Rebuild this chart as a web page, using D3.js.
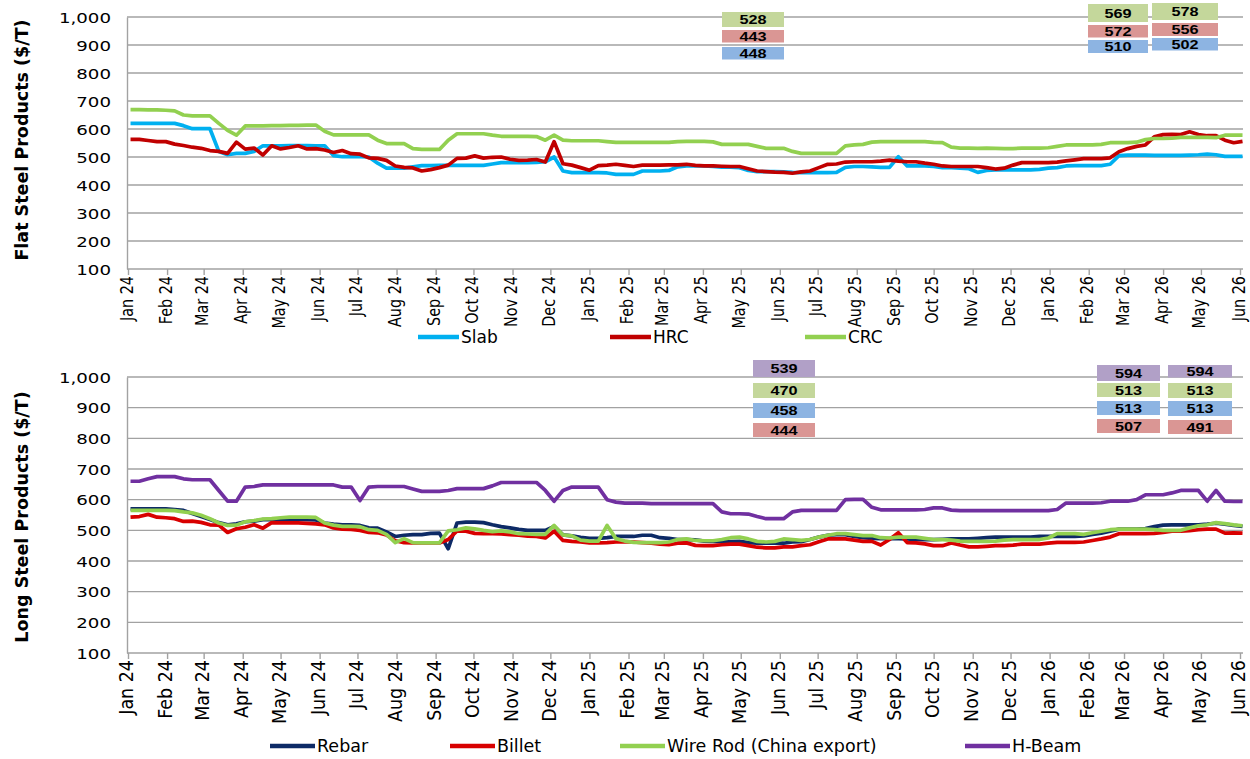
<!DOCTYPE html>
<html><head><meta charset="utf-8">
<script src="https://cdn.jsdelivr.net/npm/d3@7"></script>
<style>body{margin:0;background:#fff;} svg{display:block;}</style>
</head><body>
<svg id="chart" width="1250" height="759"></svg>
<script>
// ---------------- DATA ----------------
const monthLabels = ["Jan 24","Feb 24","Mar 24","Apr 24","May 24","Jun 24","Jul 24","Aug 24","Sep 24","Oct 24","Nov 24","Dec 24",
  "Jan 25","Feb 25","Mar 25","Apr 25","May 25","Jun 25","Jul 25","Aug 25","Sep 25","Oct 25","Nov 25","Dec 25",
  "Jan 26","Feb 26","Mar 26","Apr 26","May 26","Jun 26"];
const yTicks = [100,200,300,400,500,600,700,800,900,1000];
const firstWeek = "2024-01-03"; // weekly observations

const slab = [620,620,620,620,620,620,612,601,601,601,
  520,508,513,513,520,540,540,540,541,541,
  541,540,540,505,501,501,501,500,478,460,
  460,460,465,469,469,470,470,470,470,470,
  470,475,480,480,480,480,481,483,500,450,
  444,444,444,444,443,438,438,438,450,450,
  450,452,465,468,468,468,466,464,464,462,
  452,448,448,448,447,445,444,444,444,444,
  445,463,466,466,465,463,463,501,468,468,
  468,466,462,462,460,458,445,452,454,454,
  454,454,454,456,460,462,468,469,469,469,
  469,474,505,507,507,507,506,506,506,506,
  507,508,510,508,502,502,502];
const hrc = [563,563,559,555,555,546,541,535,531,523,
  520,513,553,528,532,507,540,529,534,540,
  529,530,525,516,523,512,510,497,495,488,
  468,463,461,450,455,462,471,495,496,504,
  496,499,500,492,488,489,491,482,555,476,
  471,462,453,469,471,474,470,466,471,471,
  471,472,472,474,470,468,468,467,466,466,
  458,450,448,446,445,442,447,450,462,474,
  475,482,483,483,483,485,489,485,483,483,
  478,474,468,466,466,466,466,462,457,460,
  471,480,480,480,480,482,486,490,494,494,
  494,497,519,530,538,543,572,580,581,580,
  590,580,576,576,560,551,556];
const crc = [669,669,668,668,667,665,650,647,647,647,
  620,595,578,611,611,611,612,612,613,613,
  614,614,592,579,579,579,579,579,560,548,
  548,548,530,527,527,527,560,583,583,583,
  583,578,574,574,574,574,573,560,578,560,
  558,558,558,558,555,552,552,552,552,552,
  552,552,555,556,556,556,554,545,545,545,
  545,538,531,531,531,520,513,513,513,513,
  513,540,543,545,553,555,555,555,555,555,
  555,552,551,535,532,532,531,532,531,530,
  530,532,532,532,533,538,543,543,543,543,
  545,551,551,551,553,562,566,566,567,570,
  570,570,570,569,578,578,578];

const rebar = [570,570,570,570,570,568,565,555,545,535,
  525,518,521,528,530,535,535,536,536,536,
  535,534,524,520,518,518,516,508,507,495,
  480,484,486,486,490,491,440,524,527,527,
  525,518,512,508,503,500,500,500,513,485,
  482,477,474,474,476,480,480,480,484,484,
  476,474,470,470,469,465,464,463,463,464,
  460,458,458,458,458,462,463,470,478,484,
  486,486,480,476,474,473,473,473,472,470,
  470,470,471,472,472,472,474,476,478,478,
  478,478,478,480,480,480,480,480,482,487,
  491,497,504,504,504,506,512,517,518,518,
  518,518,520,523,520,516,513];
const billet = [543,545,552,543,541,538,529,530,526,518,
  517,493,505,510,518,507,525,524,524,524,
  523,521,518,508,504,503,500,493,492,485,
  466,460,459,459,459,459,470,498,497,490,
  489,489,488,486,484,481,480,475,497,467,
  464,462,459,459,460,462,463,462,460,458,
  455,453,458,459,451,450,450,453,455,455,
  450,445,443,443,446,446,450,453,463,472,
  472,472,468,464,464,452,470,492,460,459,
  456,450,450,459,452,446,446,448,450,450,
  452,455,455,455,458,461,461,461,462,467,
  472,478,489,489,489,489,490,493,497,497,
  499,502,504,504,491,492,491];
const wireRod = [565,565,565,565,565,564,560,557,549,538,
  524,516,517,528,532,537,538,541,543,543,
  543,542,524,517,513,513,512,502,500,487,
  460,473,460,459,459,459,498,502,508,505,
  500,496,498,495,489,488,487,487,516,485,
  482,468,465,465,516,473,465,461,460,460,
  460,462,470,472,467,466,466,470,476,478,
  472,464,462,464,472,470,467,470,478,484,
  489,489,486,483,483,476,475,478,478,478,
  474,470,470,468,465,464,464,464,465,468,
  470,470,470,470,475,489,489,489,487,492,
  497,502,504,504,504,504,502,500,500,500,
  508,515,518,525,522,518,515];
const hBeam = [660,660,668,675,675,675,668,665,665,665,
  630,595,595,641,643,648,648,648,648,648,
  648,648,648,648,641,641,597,641,643,643,
  643,643,635,627,627,627,630,636,636,636,
  636,645,656,656,656,656,656,630,595,630,
  641,641,641,641,600,592,589,589,589,587,
  587,587,587,587,587,587,587,560,554,554,
  553,545,538,538,538,560,565,565,565,565,
  565,600,601,601,575,567,567,567,567,567,
  568,573,573,566,564,564,564,564,564,564,
  564,564,564,564,564,568,589,589,589,589,
  590,595,595,595,600,616,616,616,622,630,
  630,630,595,630,595,594,594];

// callout values (columns: mid-2025, previous, latest)
const flatCalloutSeries = ["CRC","HRC","Slab"];
const flatCallouts = [[528,443,448],[569,572,510],[578,556,502]];
const longCalloutSeries = ["H-Beam","Wire Rod","Rebar","Billet"];
const longCallouts = [[539,470,458,444],[594,513,513,507],[594,513,513,491]];

// ---------------- STYLE / LAYOUT ----------------
const GRID = "#a2a2a2";
const FONT = "DejaVu Sans, Verdana, sans-serif";
const colors = {Slab:"#00b0f0", HRC:"#c00000", CRC:"#92d050",
  Rebar:"#0d2a66", Billet:"#d80000", "Wire Rod":"#92d050", "H-Beam":"#7030a0"};
const boxColors = {CRC:"#c4d79b", "Wire Rod":"#c4d79b", HRC:"#da9694", Billet:"#da9694",
  Slab:"#8db4e2", Rebar:"#8db4e2", "H-Beam":"#b1a0c7"};

const svg = d3.select("#chart");
const parseDay = d3.timeParse("%Y-%m-%d");
const parseMonth = d3.timeParse("%b %y");
const monthDates = monthLabels.map(parseMonth);
const start = parseDay(firstWeek);
const weekDates = slab.map((_, i) => d3.timeDay.offset(start, 7 * i));

const x = d3.scaleTime().domain([monthDates[0], monthDates[monthDates.length - 1]]).range([128, 1240]);
const plotLeft = 127, plotRight = 1243;

function panel(cfg) {
  const y = d3.scaleLinear().domain([100, 1000]).range([cfg.bottom, cfg.top]);
  const g = svg.append("g");

  g.append("g").selectAll("line").data(yTicks).join("line")
    .attr("x1", plotLeft).attr("x2", plotRight)
    .attr("y1", d => y(d)).attr("y2", d => y(d))
    .attr("stroke", GRID).attr("stroke-width", 1.4);

  const ya = g.append("g").attr("transform", `translate(${plotLeft},0)`)
    .call(d3.axisLeft(y).tickValues(yTicks).tickFormat(d3.format(",")).tickSize(0).tickSizeOuter(0));
  ya.select(".domain").attr("stroke", GRID).attr("stroke-width", 1.4);
  ya.selectAll("text")
    .attr("x", 0).attr("dy", "0.36em").attr("text-anchor", "end")
    .attr("font-family", FONT).attr("font-size", 14).attr("fill", "#000")
    .attr("transform", "translate(-16,0) scale(1.3,1)");

  const xa = g.append("g").attr("transform", `translate(0,${cfg.bottom})`)
    .call(d3.axisBottom(x).tickValues(monthDates).tickFormat((d, i) => monthLabels[i]).tickSize(6).tickSizeOuter(0));
  xa.select(".domain").remove();
  xa.selectAll("line").attr("stroke", GRID).attr("stroke-width", 1.4);
  xa.selectAll("text")
    .attr("x", 0).attr("y", 0).attr("dy", "0.35em").attr("text-anchor", "end")
    .attr("font-family", FONT).attr("font-size", cfg.xFont).attr("fill", "#000")
    .attr("transform", `translate(-2,7) scale(${cfg.xStretch},1) rotate(-90)`);

  g.append("text")
    .attr("transform", `translate(22,${cfg.titleY}) rotate(-90)`)
    .attr("text-anchor", "middle").attr("dy", "0.35em")
    .attr("font-family", FONT).attr("font-weight", "bold").attr("font-size", 17.5)
    .text(cfg.title);

  const line = d3.line().x((d, i) => x(weekDates[i])).y(d => y(d));
  cfg.series.forEach(s => {
    g.append("path").attr("d", line(s.values))
      .attr("fill", "none").attr("stroke", colors[s.name]).attr("stroke-width", 3.7)
      .attr("stroke-linejoin", "round").attr("stroke-linecap", "butt");
  });

  // legend
  cfg.series.forEach((s, k) => {
    const lx = cfg.legendX[k];
    g.append("line").attr("x1", lx).attr("x2", lx + cfg.legendLen)
      .attr("y1", cfg.legendY).attr("y2", cfg.legendY)
      .attr("stroke", colors[s.name]).attr("stroke-width", 4.5);
    g.append("text").attr("x", lx + cfg.legendLen + 2).attr("y", cfg.legendY).attr("dy", "0.35em")
      .attr("font-family", FONT).attr("font-size", cfg.legendFont).text(s.label);
  });

  // callouts
  cfg.callouts.forEach((col, c) => {
    const box = cfg.boxCols[c];
    col.forEach((v, r) => {
      const name = cfg.calloutSeries[r];
      const [ry, rh] = box.rows[r];
      g.append("rect").attr("x", box.x).attr("y", ry).attr("width", box.w).attr("height", rh)
        .attr("fill", boxColors[name]);
      g.append("text")
        .attr("transform", `translate(${box.x + box.w / 2},${ry + rh / 2}) scale(1.25,1)`)
        .attr("text-anchor", "middle").attr("dy", "0.36em")
        .attr("font-family", "Liberation Sans, Arial, sans-serif").attr("font-weight", "bold")
        .attr("font-size", 13).attr("fill", "#000").text(v);
    });
  });
}

panel({
  top: 17, bottom: 269, titleY: 140, xFont: 14.4, xStretch: 1.2, title: "Flat Steel Products ($/T)",
  series: [{name: "Slab", label: "Slab", values: slab}, {name: "HRC", label: "HRC", values: hrc},
           {name: "CRC", label: "CRC", values: crc}],
  legendX: [418, 610, 805], legendLen: 41, legendY: 337, legendFont: 17,
  calloutSeries: flatCalloutSeries, callouts: flatCallouts,
  boxCols: [
    {x: 722, w: 62, rows: [[12, 15], [30, 12.5], [47, 12.5]]},
    {x: 1088, w: 60, rows: [[4, 18], [25, 12.5], [40, 13]]},
    {x: 1152, w: 66, rows: [[3, 17], [23, 13], [38, 12.5]]}
  ]
});

panel({
  top: 377, bottom: 653, titleY: 517, xFont: 17.5, xStretch: 1.1, title: "Long Steel Products ($/T)",
  series: [{name: "Rebar", label: "Rebar", values: rebar}, {name: "Billet", label: "Billet", values: billet},
           {name: "Wire Rod", label: "Wire Rod (China export)", values: wireRod},
           {name: "H-Beam", label: "H-Beam", values: hBeam}],
  legendX: [270, 450, 620, 965], legendLen: 45, legendY: 746, legendFont: 17.5,
  calloutSeries: longCalloutSeries, callouts: longCallouts,
  boxCols: [
    {x: 753, w: 62, rows: [[360, 17], [383, 15], [403, 15], [423, 14]]},
    {x: 1097, w: 63, rows: [[365, 16], [383, 14], [401, 14], [419, 14]]},
    {x: 1168, w: 64, rows: [[365, 12.5], [383, 15], [401, 15], [420, 14]]}
  ]
});
</script>
</body></html>
